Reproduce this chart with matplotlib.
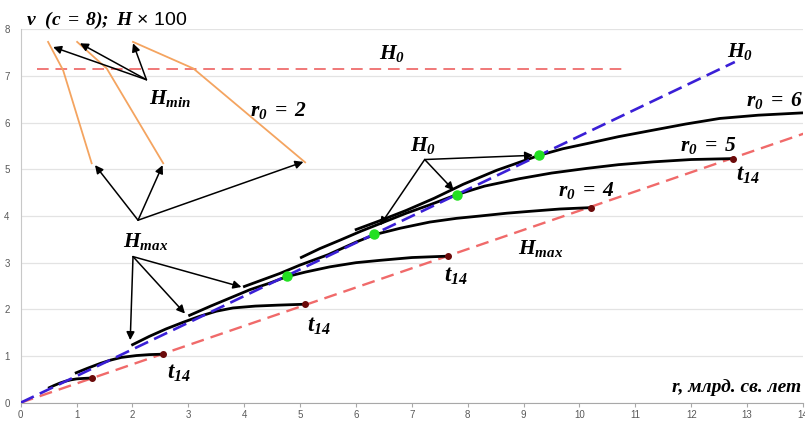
import matplotlib
matplotlib.use("Agg")
from matplotlib import pyplot as plt
from matplotlib import rcParams

rcParams["mathtext.fontset"] = "custom"
rcParams["mathtext.rm"] = "Liberation Serif:italic:bold"
rcParams["mathtext.it"] = "Liberation Serif:italic:bold"
rcParams["mathtext.bf"] = "Liberation Serif:italic:bold"

# black curves v(r)
r_1 = [0.49, 0.60, 0.70, 0.80, 0.90, 1.00, 1.12, 1.28]
v_1 = [0.31, 0.37, 0.42, 0.46, 0.49, 0.51, 0.52, 0.53]
r_2 = [0.97, 1.20, 1.42, 1.60, 1.80, 2.07, 2.30, 2.55]
v_2 = [0.63, 0.74, 0.84, 0.91, 0.97, 1.01, 1.03, 1.04]
r_3 = [1.98, 2.30, 2.60, 2.90, 3.20, 3.50, 3.80, 4.20, 4.60, 5.09]
v_3 = [1.23, 1.42, 1.58, 1.72, 1.85, 1.96, 2.03, 2.07, 2.09, 2.11]
r_4 = [3.00, 3.40, 3.74, 4.10, 4.45, 4.76, 5.10, 5.53, 6.00, 6.43, 7.00, 7.65]
v_4 = [1.86, 2.07, 2.24, 2.42, 2.56, 2.70, 2.80, 2.91, 3.00, 3.05, 3.11, 3.14]
r_5 = [3.98, 4.64, 5.00, 5.50, 6.00, 6.33, 6.80, 7.32, 7.80, 8.22, 8.70, 9.11, 9.65, 10.21]
v_5 = [2.48, 2.77, 2.95, 3.17, 3.44, 3.60, 3.74, 3.87, 3.95, 4.00, 4.06, 4.10, 4.15, 4.18]
r_6 = [5.00, 5.35, 5.71, 6.10, 6.50, 6.90, 7.30, 7.81, 8.30, 8.93, 9.50, 10.13, 10.70, 11.32, 12.00, 12.75]
v_6 = [3.10, 3.30, 3.48, 3.68, 3.87, 4.06, 4.23, 4.46, 4.64, 4.80, 4.92, 5.02, 5.10, 5.16, 5.21, 5.23]
r_7 = [5.98, 6.43, 6.90, 7.40, 7.92, 8.52, 9.28, 9.70, 10.13, 10.70, 11.32, 11.90, 12.51, 13.20, 14.00]
v_7 = [3.70, 3.90, 4.12, 4.38, 4.68, 4.98, 5.30, 5.44, 5.55, 5.70, 5.84, 5.97, 6.09, 6.16, 6.21]

# H0 (blue), Hmax (red diagonal), H0 level (red horizontal)
h0_r = [0.0, 12.78]
h0_v = [0.0, 7.30]
hmax_r = [0.0, 14.05]
hmax_v = [0.0, 5.78]
h0_level_r = [0.29, 10.78]
h0_level_v = [7.14, 7.14]

# touch points with H0 and t14 end points
touch_r = [4.76, 6.33, 7.81, 9.28]
touch_v = [2.72, 3.61, 4.46, 5.30]
t14_r = [1.28, 2.55, 5.09, 7.65, 10.21, 12.75]
t14_v = [0.53, 1.04, 2.11, 3.14, 4.18, 5.23]

# orange Hmin -> Hmax lines
orange_1 = ([0.49, 0.76, 1.27], [7.73, 7.12, 5.13])
orange_2 = ([1.01, 1.54, 2.55], [7.73, 7.16, 5.13])
orange_3 = ([2.01, 3.09, 5.09], [7.73, 7.16, 5.15])

x_ticks = list(range(0, 15))
y_ticks = list(range(0, 9))

fig = plt.figure(figsize=(8.05, 4.21), dpi=100)
ax = fig.add_axes([20.7 / 805, (421 - 402.7) / 421, (803 - 20.7) / 805, (402.7 - 29.3) / 421])
ax.set_xlim(0, 14)
ax.set_ylim(0, 8)
ax.set_xticks(x_ticks)
ax.set_yticks(y_ticks)
ax.grid(axis="y", color="#e3e3e3", lw=0.9)
ax.set_axisbelow(True)
for side in ("top", "right"):
    ax.spines[side].set_visible(False)
ax.spines["left"].set_color("#c8c8c8")
ax.spines["bottom"].set_color("#a8a8a8")
ax.tick_params(axis="x", length=3, color="#a8a8a8", labelsize=7, labelcolor="#595959", pad=2)
ax.tick_params(axis="y", length=0, labelsize=7, labelcolor="#595959", pad=8)
for lab in ax.get_xticklabels() + ax.get_yticklabels():
    lab.set_family("Liberation Sans")

ax.plot(h0_level_r, h0_level_v, color="#f07878", lw=1.4, dashes=(6, 3.5), zorder=2)
ax.plot(hmax_r, hmax_v, color="#f06a6a", lw=1.7, dashes=(5.5, 3), zorder=2)
for o_r, o_v in (orange_1, orange_2, orange_3):
    ax.plot(o_r, o_v, color="#f4a460", lw=1.3, zorder=2)

for cr, cv in ((r_1, v_1), (r_2, v_2), (r_3, v_3), (r_4, v_4), (r_5, v_5), (r_6, v_6), (r_7, v_7)):
    ax.plot(cr, cv, color="black", lw=2.0, solid_capstyle="butt", zorder=3)

ax.plot(h0_r, h0_v, color="#3a1fd6", lw=1.9, dashes=(5.5, 2.5), zorder=4)
ax.plot(touch_r, touch_v, "o", color="#22e022", ms=6.5, zorder=5)
ax.plot(t14_r, t14_v, "o", color="#6b0a0a", ms=4, zorder=5)

# arrows: (tail, [heads])
arrow_groups = [
    ((2.25, 6.92), [(0.58, 7.62), (1.06, 7.70), (2.01, 7.70)]),
    ((2.10, 3.91), [(1.33, 5.09), (2.54, 5.09), (5.06, 5.16)]),
    ((2.01, 3.13), [(1.96, 1.34), (2.94, 1.91), (3.95, 2.48)]),
    ((7.23, 5.21), [(9.17, 5.30), (7.75, 4.55), (6.43, 3.80)]),
]
for tail, heads in arrow_groups:
    for head in heads:
        ax.annotate("", xy=head, xytext=tail,
                    arrowprops=dict(arrowstyle="-|>", color="black", lw=1.1,
                                    mutation_scale=12, shrinkA=0, shrinkB=0),
                    zorder=6)

label_kw = dict(fontsize=15.5, ha="center", va="center", zorder=7)
ax.text(6.64, 7.49, r"$H_0$", **label_kw)
ax.text(12.87, 7.53, r"$H_0$", **label_kw)
ax.text(7.20, 5.50, r"$H_0$", **label_kw)
ax.text(2.67, 6.52, r"$H_{min}$", **label_kw)
ax.text(4.62, 6.25, r"$r_0\;=\;2$", **label_kw)
ax.text(2.24, 3.46, r"$H_{max}$", **label_kw)
ax.text(9.31, 3.31, r"$H_{max}$", **label_kw)
ax.text(10.12, 4.55, r"$r_0\;=\;4$", **label_kw)
ax.text(12.30, 5.50, r"$r_0\;=\;5$", **label_kw)
ax.text(14.0, 6.48, r"$r_0\;=\;6$", fontsize=15.5, ha="right", va="center", zorder=7)
for tx, ty in ((2.84, 0.64), (5.34, 1.66), (7.79, 2.73), (13.01, 4.89)):
    ax.text(tx, ty, r"$t_{14}$", fontsize=16.5, ha="center", va="center", zorder=7)

ax.text(13.97, 0.22, "r, млрд. св. лет", family="Liberation Serif", style="italic",
        weight="bold", fontsize=14, ha="right", va="baseline")

fig.text(26 / 805, (421 - 25) / 421, r"$v\ \ (c\;=\;8);\ H$ × 100",
         family="Liberation Sans", fontsize=14, ha="left", va="baseline")

fig.savefig("out.png", dpi=100)
